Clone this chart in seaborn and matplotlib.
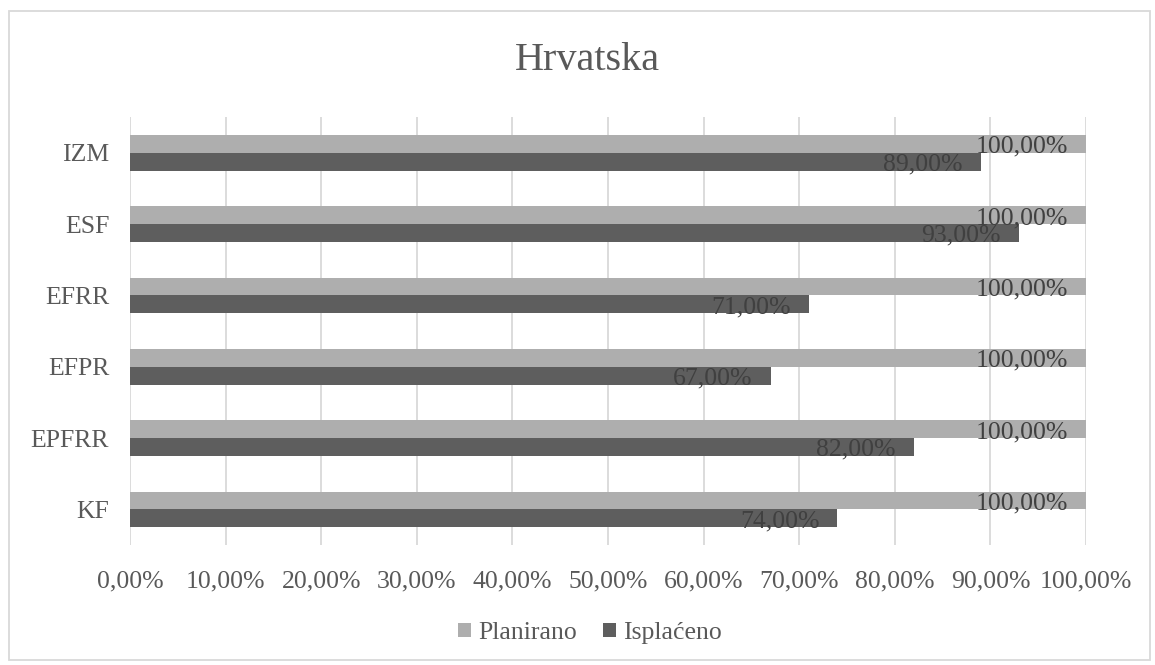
import pandas as pd
import matplotlib.pyplot as plt
import seaborn as sns
from matplotlib.patches import Rectangle

# Chart data
categories = ["IZM", "ESF", "EFRR", "EFPR", "EPFRR", "KF"]
planirano = [100, 100, 100, 100, 100, 100]
isplaceno = [89, 93, 71, 67, 82, 74]
series_names = ["Planirano", "Isplaćeno"]
x_ticks = [0, 10, 20, 30, 40, 50, 60, 70, 80, 90, 100]

df = pd.DataFrame({
    "Kategorija": categories * 2,
    "Serija": [series_names[0]] * len(categories) + [series_names[1]] * len(categories),
    "Vrijednost": planirano + isplaceno,
})

sns.set_style("white")
plt.rcParams["font.family"] = ["Liberation Serif", "DejaVu Serif"]

text_col = "#595959"
fs = 18.5
fig = plt.figure(figsize=(11.55, 6.65), dpi=100)
ax = fig.add_axes([130 / 1155, 1 - 545 / 665, (1086 - 130) / 1155, (545 - 117) / 665])

sns.barplot(data=df, y="Kategorija", x="Vrijednost", hue="Serija", orient="h",
            order=categories, hue_order=series_names,
            palette=["#AEAEAE", "#5E5E5E"], width=0.5, gap=0, ax=ax,
            saturation=1, errorbar=None, linewidth=0)

ax.set_xlim(0, 100)
ax.set_xticks(x_ticks)
ax.set_xticklabels([f"{t:.2f}%".replace(".", ",") for t in x_ticks])
ax.set_xlabel("")
ax.set_ylabel("")
ax.grid(axis="x", color="#D9D9D9", linewidth=1.3)
ax.set_axisbelow(True)
for s in ax.spines.values():
    s.set_visible(False)
ax.tick_params(axis="both", length=0, labelsize=fs, colors=text_col)
ax.tick_params(axis="x", pad=18)
ax.tick_params(axis="y", pad=15)

# data labels, right aligned inside the end of each bar
for cont in ax.containers:
    for p in cont:
        w = p.get_width()
        ax.annotate(f"{w:.2f}%".replace(".", ","),
                    xy=(p.get_x() + w, p.get_y() + p.get_height() / 2),
                    xytext=(-18, -3), textcoords="offset pixels",
                    ha="right", va="center", fontsize=fs, color="#404040")

fig.text(587 / 1155, 1 - 60 / 665, "Hrvatska", fontsize=29, color=text_col,
         ha="center", va="center")

leg = ax.legend(loc="center", bbox_to_anchor=(590 / 1155, 1 - 633 / 665),
                bbox_transform=fig.transFigure, ncol=2, frameon=False,
                fontsize=fs, handlelength=0.5, handleheight=0.5,
                handletextpad=0.3, columnspacing=1.0)
for t in leg.get_texts():
    t.set_color(text_col)

fig.patches.append(Rectangle((9 / 1155, 1 - 660 / 665), (1150 - 9) / 1155, (660 - 11) / 665,
                             transform=fig.transFigure, fill=False,
                             edgecolor="#D9D9D9", linewidth=1.3))

fig.savefig("out.png", dpi=100)
plt.close(fig)
